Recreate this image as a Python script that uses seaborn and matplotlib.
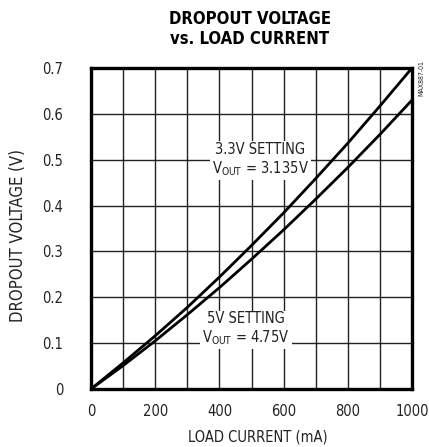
import matplotlib
matplotlib.use("Agg")
import matplotlib.pyplot as plt
import seaborn as sns
import pandas as pd

# Data
load_ma = [0, 100, 200, 300, 400, 500, 600, 700, 800, 900, 1000]
v_33 = [0, 0.057, 0.116, 0.178, 0.244, 0.313, 0.384, 0.459, 0.536, 0.617, 0.700]
v_5 = [0, 0.051, 0.105, 0.162, 0.221, 0.283, 0.347, 0.414, 0.483, 0.555, 0.630]
x_ticks = [0, 200, 400, 600, 800, 1000]
y_ticks = [0, 0.1, 0.2, 0.3, 0.4, 0.5, 0.6, 0.7]
y_tick_labels = ["0", "0.1", "0.2", "0.3", "0.4", "0.5", "0.6", "0.7"]

sns.set_theme(style="white")
FAM = ["DejaVu Sans"]
plt.rcParams["font.family"] = FAM
plt.rcParams["font.stretch"] = "condensed"
plt.rcParams["mathtext.fontset"] = "custom"
plt.rcParams["mathtext.rm"] = "DejaVu Sans:stretch=condensed"
plt.rcParams["mathtext.it"] = "DejaVu Sans:stretch=condensed"

df = pd.DataFrame({
    "load": load_ma * 2,
    "v": v_33 + v_5,
    "setting": ["3.3V"] * len(load_ma) + ["5V"] * len(load_ma),
})

fig = plt.figure(figsize=(4.29, 4.47), dpi=100)
ax = fig.add_axes([91 / 429, 1 - 389 / 447, (412 - 91) / 429, (389 - 68) / 447])

sns.lineplot(data=df, x="load", y="v", units="setting", estimator=None,
             color="black", linewidth=2.0, ax=ax, legend=False)

ax.set_xlim(0, 1000)
ax.set_ylim(0, 0.7)
ax.set_xticks(x_ticks, labels=[str(t) for t in x_ticks])
ax.set_xticks(range(100, 1000, 200), minor=True)
ax.set_yticks(y_ticks, labels=y_tick_labels)
ax.grid(True, which="both", color="#222222", linewidth=1.0)
ax.set_axisbelow(True)
ax.tick_params(axis="both", which="both", length=0, labelsize=10.5, colors="#222222")
ax.tick_params(axis="y", pad=20)
ax.tick_params(axis="x", pad=11)
for s in ax.spines.values():
    s.set_visible(True)
    s.set_color("black")
    s.set_linewidth(2.4)
ax.set_xlabel("")
ax.set_ylabel("")

box = dict(facecolor="white", edgecolor="none", pad=1.5)
ax.text(528, 0.50, "3.3V SETTING\nV$_{\\mathrm{OUT}}$ = 3.135V", ha="center", va="center",
        fontsize=10.5, color="#222222", bbox=box, linespacing=1.15, zorder=5)
ax.text(483, 0.13, "5V SETTING\nV$_{\\mathrm{OUT}}$ = 4.75V", ha="center", va="center",
        fontsize=10.5, color="#222222", bbox=box, linespacing=1.15, zorder=5)

fig.text(250 / 429, 1 - 29 / 447, "DROPOUT VOLTAGE\nvs. LOAD CURRENT", ha="center",
         va="center", fontsize=12, fontweight="bold", color="black", linespacing=1.2)
fig.text(258 / 429, 1 - 437 / 447, "LOAD CURRENT (mA)", ha="center", va="center",
         fontsize=10.5, color="#222222")
fig.text(18 / 429, 1 - 235 / 447, "DROPOUT VOLTAGE (V)", ha="center", va="center",
         rotation=90, fontsize=12, color="#222222")
fig.text(421 / 429, 1 - 78 / 447, "MAX887-01", ha="center", va="center",
         rotation=90, fontsize=5, color="#222222")

fig.savefig("out.png", dpi=100)
